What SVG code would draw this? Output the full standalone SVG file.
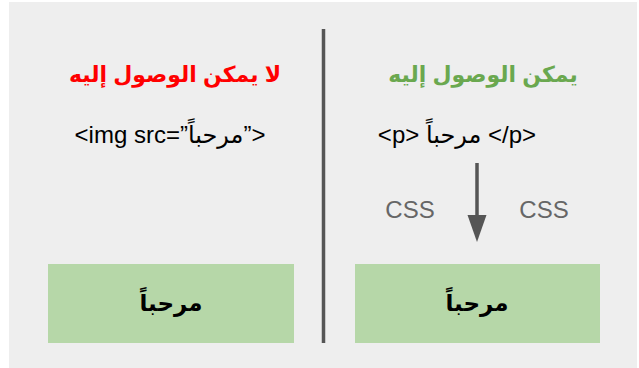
<svg xmlns="http://www.w3.org/2000/svg" width="639" height="368" viewBox="0 0 639 368">
<defs>
<style>
.t{font-family:"Liberation Sans","DejaVu Sans",Arial,sans-serif;text-anchor:middle}
.title{font-size:22px;font-weight:bold}
.code{font-size:24px;fill:#000}
.css{font-size:24px;fill:#666666}
.box{fill:#b6d7a8}
.boxt{font-size:23px;font-weight:bold;fill:#000}
</style>
<marker id="ah" markerWidth="27" markerHeight="20" refX="1" refY="10" orient="auto" markerUnits="userSpaceOnUse">
<path d="M0,0.5 L27,10 L0,19.5 z" fill="#555555"/>
</marker>
</defs>
<rect x="9" y="2" width="628" height="366" fill="#eeeeee"/>
<g id="divider"><line x1="323.5" y1="29" x2="323.5" y2="343" stroke="#555555" stroke-width="3.5"/></g>
<g id="left-title"><text class="t title" x="175" y="82" fill="#ff0000">لا يمكن الوصول إليه</text></g>
<g id="right-title"><text class="t title" x="483" y="82" fill="#6aa84f">يمكن الوصول إليه</text></g>
<g id="left-code"><text class="t code" x="170" y="143" direction="ltr">&lt;img src=”مرحباً”&gt;</text></g>
<g id="right-code"><text class="t code" x="457" y="143" direction="ltr">&lt;p&gt; مرحباً &lt;/p&gt;</text></g>
<g id="connectors">
<line x1="477" y1="163" x2="477" y2="216" stroke="#555555" stroke-width="3.5" marker-end="url(#ah)"/>
</g>
<g id="css-left"><text class="t css" x="410" y="218">CSS</text></g>
<g id="css-right"><text class="t css" x="544" y="218">CSS</text></g>
<g id="left-box"><rect class="box" x="48" y="264" width="246" height="79"/><text class="t boxt" x="171" y="311">مرحباً</text></g>
<g id="right-box"><rect class="box" x="355" y="264" width="245" height="79"/><text class="t boxt" x="477" y="311">مرحباً</text></g>
</svg>
